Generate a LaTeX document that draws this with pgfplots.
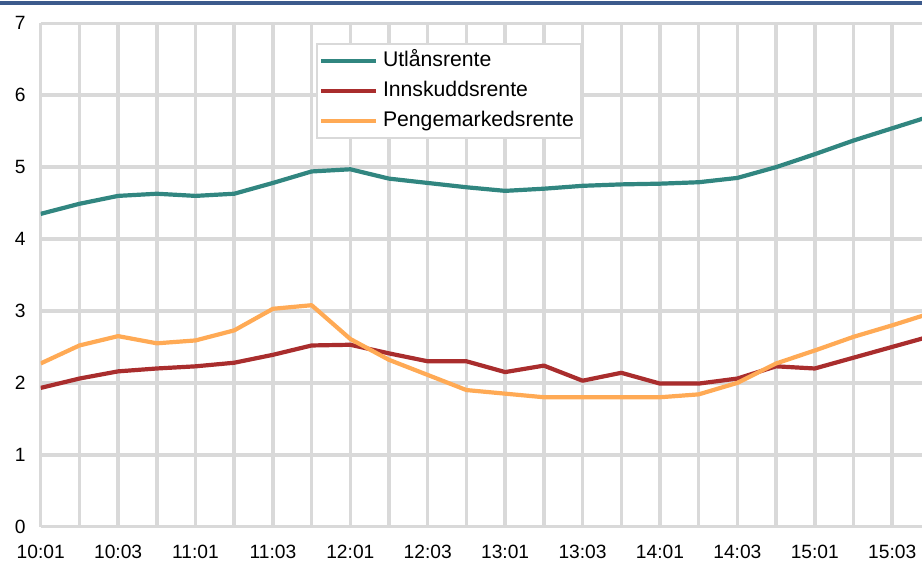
\documentclass[border=0pt]{standalone}
\usepackage{pgfplots}
\pgfplotsset{compat=1.18}
\usepackage{pgfplotstable}
\usepackage{fontspec}
\setmainfont{Liberation Sans}

\definecolor{gridgray}{HTML}{D9D9D9}
\definecolor{utlan}{HTML}{318680}
\definecolor{innskudd}{HTML}{A92D2D}
\definecolor{penge}{HTML}{FFAA55}
\definecolor{topblue}{HTML}{3C5A8C}

% quarter index, Utlånsrente, Innskuddsrente, Pengemarkedsrente
\pgfplotstableread{
q  ut    inn   pm
0  4.35  1.93  2.27
1  4.49  2.06  2.52
2  4.60  2.16  2.65
3  4.63  2.20  2.55
4  4.60  2.23  2.59
5  4.63  2.28  2.73
6  4.78  2.39  3.03
7  4.94  2.52  3.08
8  4.97  2.53  2.61
9  4.84  2.41  2.32
10 4.78  2.30  2.11
11 4.72  2.30  1.90
12 4.67  2.15  1.85
13 4.70  2.24  1.80
14 4.74  2.03  1.80
15 4.76  2.14  1.80
16 4.77  1.99  1.80
17 4.79  1.99  1.84
18 4.85  2.06  2.00
19 5.00  2.23  2.27
20 5.18  2.20  2.45
21 5.37  2.35  2.64
22 5.54  2.50  2.80
23 5.71  2.65  2.97
}\rentedata

\begin{document}
\begin{tikzpicture}
\begin{axis}[
    at={(0pt,0pt)}, anchor=south west,
    scale only axis, width=440.65pt, height=251.7pt,
    xmin=0, xmax=22.77, ymin=0, ymax=7,
    axis x line*=bottom, axis y line*=left,
    axis line style={draw=gridgray, line width=1.75pt, -},
    xtick={0,2,...,22},
    xticklabels={10:01,10:03,11:01,11:03,12:01,12:03,13:01,13:03,14:01,14:03,15:01,15:03},
    minor xtick={1,3,...,21},
    ytick={0,...,7},
    grid=both,
    major grid style={gridgray, line width=1.75pt},
    minor grid style={gridgray, line width=1.75pt},
    major tick length=0pt, minor tick length=0pt,
    tick label style={font=\fontsize{9.6}{11}\selectfont},
    xticklabel style={yshift=-5.5pt},
    yticklabel style={xshift=-4pt},
    /pgf/number format/assume math mode=true,
    legend cell align=left,
    legend style={at={(0.3124,0.9615)}, anchor=north west,
        draw=gridgray, line width=1pt, fill=white,
        inner xsep=1pt, inner ysep=1pt,
        font=\fontsize{10.6}{12}\selectfont,
        nodes={inner xsep=2.5pt, inner ysep=3pt, text height=7.5pt, text depth=1.5pt}},
    legend image code/.code={\draw[#1, line width=2pt] (0pt,0pt) -- (27.5pt,0pt);},
    every axis plot/.append style={line width=2.1pt, line join=round},
]
\addplot[utlan] table[x=q, y=ut] {\rentedata};
\addlegendentry{Utlånsrente}
\addplot[innskudd] table[x=q, y=inn] {\rentedata};
\addlegendentry{Innskuddsrente}
\addplot[penge] table[x=q, y=pm] {\rentedata};
\addlegendentry{Pengemarkedsrente}
\end{axis}
\draw[topblue, line width=2pt] (-20.35pt,261.7pt) -- (440.65pt,261.7pt);
\pgfresetboundingbox
\path[use as bounding box] (-20.35pt,-17.15pt) rectangle (440.65pt,263.35pt);
\end{tikzpicture}
\end{document}
